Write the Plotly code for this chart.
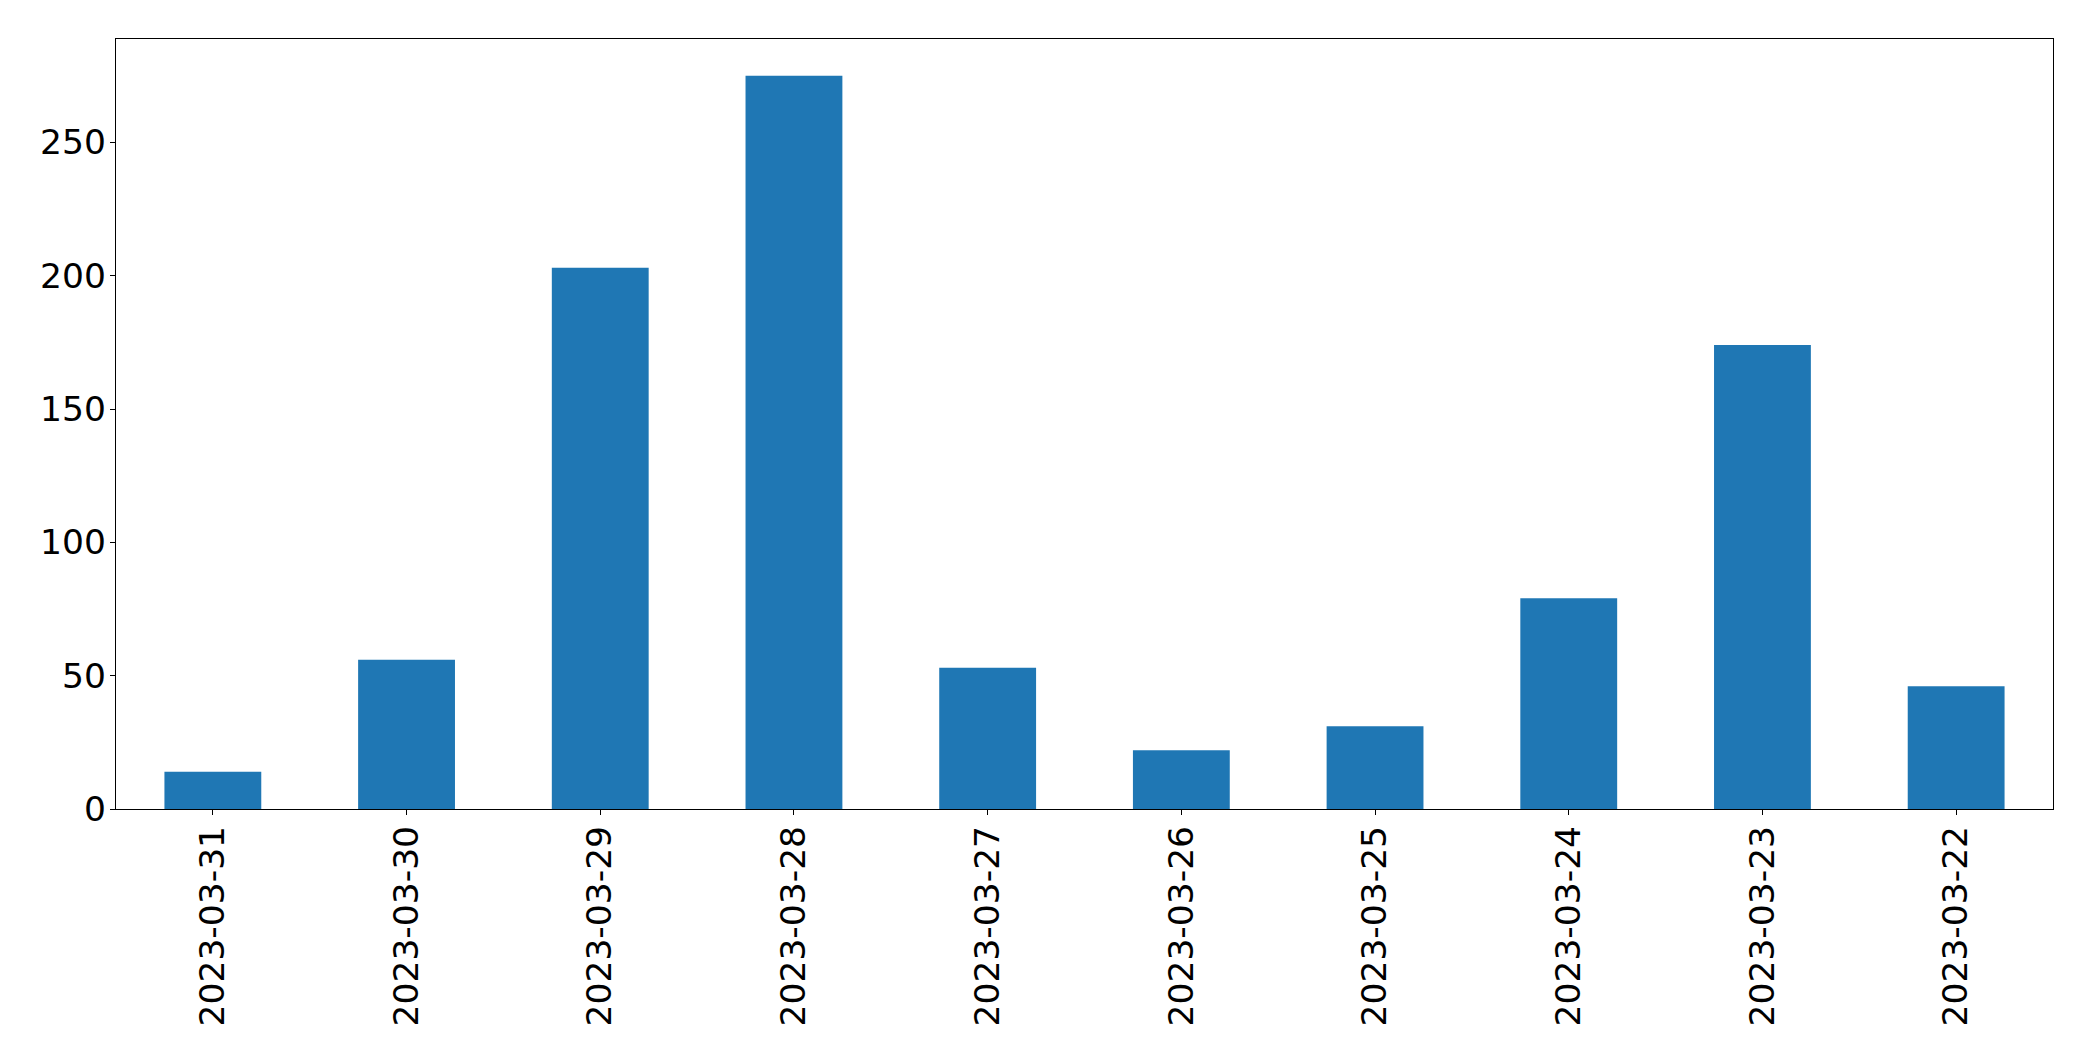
import plotly.graph_objects as go

dates = ["2023-03-31", "2023-03-30", "2023-03-29", "2023-03-28", "2023-03-27",
         "2023-03-26", "2023-03-25", "2023-03-24", "2023-03-23", "2023-03-22"]
counts = [14, 56, 203, 275, 53, 22, 31, 79, 174, 46]
y_ticks = [0, 50, 100, 150, 200, 250]

fig = go.Figure(go.Bar(x=dates, y=counts, width=0.5, marker_color="#1f77b4",
                       marker_line_width=0))

# page body has an 8px default margin, so margins are shifted accordingly
fig.update_layout(
    width=2093, height=1061,
    margin=dict(l=108, r=48, t=31, b=260, autoexpand=False),
    paper_bgcolor="white", plot_bgcolor="white",
    font=dict(family="DejaVu Sans", size=34.5, color="black"),
    showlegend=False,
    bargap=0.5,
)
fig.update_xaxes(type="category", range=[-0.5, 9.5], tickangle=-90,
                 showline=True, linecolor="black", linewidth=1.3, mirror=True,
                 ticks="outside", ticklen=5, tickwidth=1.3, tickcolor="black",
                 showgrid=False, zeroline=False, ticklabelstandoff=-3)
fig.update_yaxes(range=[0, 288.75], tickvals=y_ticks,
                 showline=True, linecolor="black", linewidth=1.3, mirror=True,
                 ticks="outside", ticklen=5, tickwidth=1.3, tickcolor="black",
                 showgrid=False, zeroline=False, ticklabelstandoff=-3)

fig.write_html("out.html")
